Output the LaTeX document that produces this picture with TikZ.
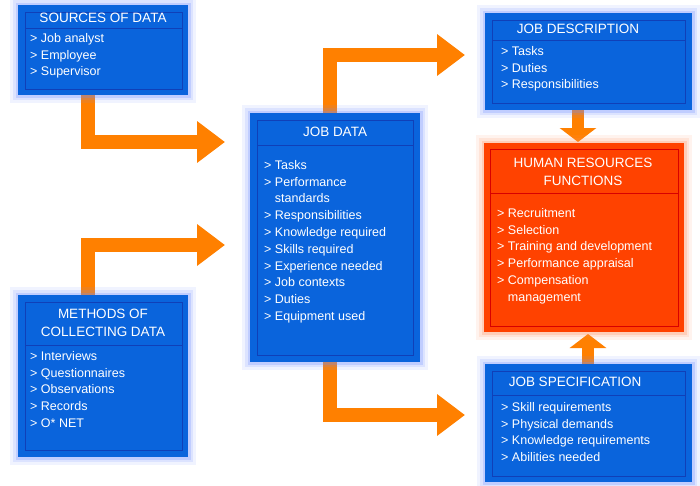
\documentclass[tikz,border=0pt]{standalone}
\usepackage{fontspec}
\setmainfont{Liberation Sans}
\usetikzlibrary{arrows.meta}
\definecolor{bl}{HTML}{0A64DC}
\definecolor{blin}{HTML}{1040B8}
\definecolor{glowb}{HTML}{6E8CFF}
\definecolor{rd}{HTML}{FF4200}
\definecolor{rdin}{HTML}{D80000}
\definecolor{glowr}{HTML}{FF9060}
\definecolor{org}{HTML}{FF8000}
\tikzset{
 bbox/.style={draw=none,fill=bl,inner sep=0pt,
   preaction={draw=glowb,line width=16pt,opacity=.10},
   preaction={draw=glowb,line width=10pt,opacity=.15},
   preaction={draw=glowb,line width=5pt,opacity=.25}},
 rbox/.style={draw=none,fill=rd,inner sep=0pt,
   preaction={draw=glowr,line width=16pt,opacity=.10},
   preaction={draw=glowr,line width=10pt,opacity=.15},
   preaction={draw=glowr,line width=5pt,opacity=.25}},
 inb/.style={draw=blin,line width=0.8pt},
 inr/.style={draw=rdin,line width=0.8pt},
 ttl/.style={text=white,font=\fontsize{13.5}{17.5}\selectfont,align=center,inner sep=0pt},
 itm/.style={text=white,font=\fontsize{12.5}{16.8}\selectfont,align=left,inner sep=0pt,anchor=north west},
 flow/.style={draw=org,line width=14pt,-{Triangle[width=40pt,length=28pt]}},
 sflow/.style={draw=org,line width=12pt,-{Triangle[width=36pt,length=14pt]}},
}
\begin{document}
\begin{tikzpicture}[x=1pt,y=-1pt]
\fill[white] (0,0) rectangle (700,485);
\useasboundingbox (0,0) rectangle (700,485);
% arrows (behind)
\coordinate (a1s) at (88,95); \coordinate (a1e) at (225,142);
\coordinate (a2s) at (88,295); \coordinate (a2e) at (225,245);
\coordinate (a3s) at (330,113); \coordinate (a3e) at (465,55);
\coordinate (a4s) at (330,362); \coordinate (a4e) at (465,415);
\draw[flow] (a1s) |- (a1e);
\draw[flow] (a2s) |- (a2e);
\draw[flow] (a3s) |- (a3e);
\draw[flow] (a4s) |- (a4e);
\coordinate (a5s) at (578,110); \coordinate (a5e) at (578,142);
\coordinate (a6s) at (588,364); \coordinate (a6e) at (588,334);
\draw[sflow] (a5s) -- (a5e);
\draw[sflow] (a6s) -- (a6e);
% sources
\node[bbox,minimum width=170pt,minimum height=90pt] (src) at (103,50) {};
\draw[inb] (25,12) rectangle (182,89); \draw[inb] (25,28)--(182,28);
\node[ttl] (srct) at (103,18) {SOURCES OF DATA};
\node[itm] (srci) at (30,33) {> Job analyst\\> Employee\\> Supervisor};
% methods
\node[bbox,minimum width=170pt,minimum height=162pt] (met) at (103,376) {};
\draw[inb] (25,302) rectangle (182,450); \draw[inb] (25,345)--(182,345);
\node[ttl] (mett) at (103,323) {METHODS OF\\COLLECTING DATA};
\node[itm] (meti) at (30,351) {> Interviews\\> Questionnaires\\> Observations\\> Records\\> O* NET};
% job data
\node[bbox,minimum width=170pt,minimum height=249pt] (jd) at (335,237.5) {};
\draw[inb] (257,120) rectangle (413,355); \draw[inb] (257,145)--(413,145);
\node[ttl] (jdt) at (335,132) {JOB DATA};
\node[itm] (jdi) at (264,160) {> Tasks\\> Performance\\\hphantom{> }standards\\> Responsibilities\\> Knowledge required\\> Skills required\\> Experience needed\\> Job contexts\\> Duties\\> Equipment used};
% job description
\node[bbox,minimum width=207pt,minimum height=97pt] (jdes) at (588.5,61.5) {};
\draw[inb] (492,20) rectangle (685,103); \draw[inb] (492,40)--(685,40);
\node[ttl] (jdest) at (578,29) {JOB DESCRIPTION};
\node[itm] (jdesi) at (501,46) {> Tasks\\> Duties\\> Responsibilities};
% HR
\node[rbox,minimum width=200pt,minimum height=189pt] (hr) at (584,237.5) {};
\draw[inr] (490,149) rectangle (678,326); \draw[inr] (490,193)--(678,193);
\node[ttl] (hrt) at (583,172) {HUMAN RESOURCES\\FUNCTIONS};
\node[itm] (hri) at (497,208) {> Recruitment\\> Selection\\> Training and development\\> Performance appraisal\\> Compensation\\\hphantom{> }management};
% job spec
\node[bbox,minimum width=207pt,minimum height=118pt] (jsp) at (588.5,423) {};
\draw[inb] (492,371) rectangle (685,476); \draw[inb] (492,395)--(685,395);
\node[ttl] (jspt) at (575,382) {JOB SPECIFICATION};
\node[itm] (jspi) at (501,402) {> Skill requirements\\> Physical demands\\> Knowledge requirements\\> Abilities needed};
\end{tikzpicture}
\end{document}
